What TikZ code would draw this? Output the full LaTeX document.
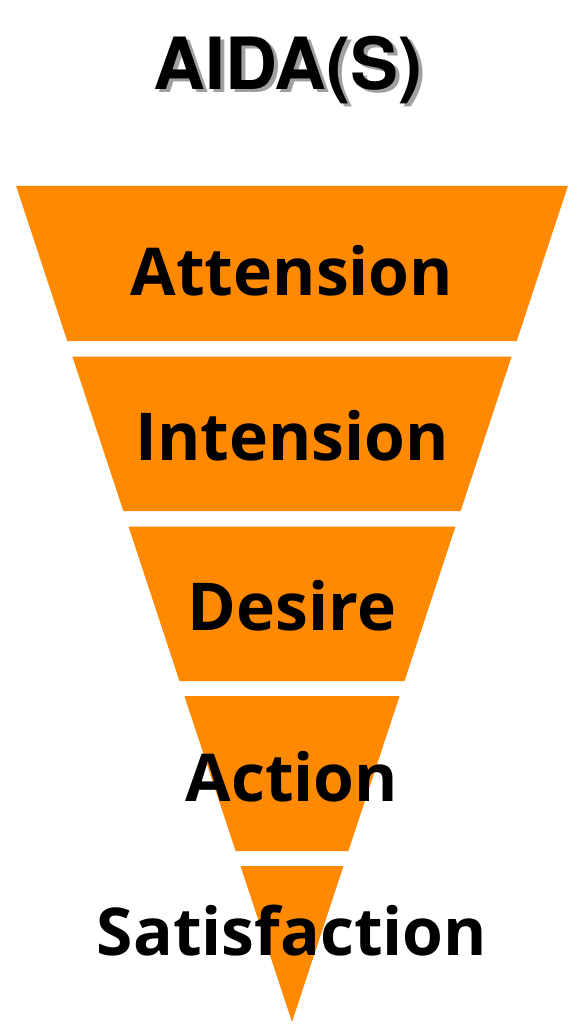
\documentclass[tikz,border=0pt]{standalone}
\usepackage{fontspec}
\newfontfamily\titlefont{TeX Gyre Heros}
\newfontfamily\stagefont{Open Sans}
\definecolor{funnel}{RGB}{255,137,0}
\definecolor{shade}{RGB}{160,160,160}

\begin{document}
\begin{tikzpicture}[x=1pt,y=-1pt,
    band/.style={fill=funnel},
    stage/.style={anchor=base,inner sep=0pt,text=black,
      font=\stagefont\bfseries\fontsize{66}{66}\selectfont},
    heading/.style={anchor=base,inner sep=0pt,
      font=\titlefont\bfseries\fontsize{72}{72}\selectfont}
  ]
  \useasboundingbox[fill=white] (0,0) rectangle (585,1024);
  \coordinate (apex) at (292,1022);
  \foreach \top/\bot in {186/341, 356.5/511, 526.5/681, 696/851, 866/1022}
    \fill[band] ({292-(1022-\top)*0.33},\top) -- ({292+(1022-\top)*0.33},\top)
      -- ({292+(1022-\bot)*0.33},\bot) -- ({292-(1022-\bot)*0.33},\bot) -- cycle;
  \node[heading,text=shade] (titleshadow) at (292,93) {AIDA(S)};
  \node[heading] (title) at (288,90) {AIDA(S)};
  \foreach \name/\base/\word in {att/295/Attension, int/460/Intension,
      des/630/Desire, act/801/Action, sat/955/Satisfaction}
    \node[stage] (\name) at (292,\base) {\word};
\end{tikzpicture}
\end{document}
